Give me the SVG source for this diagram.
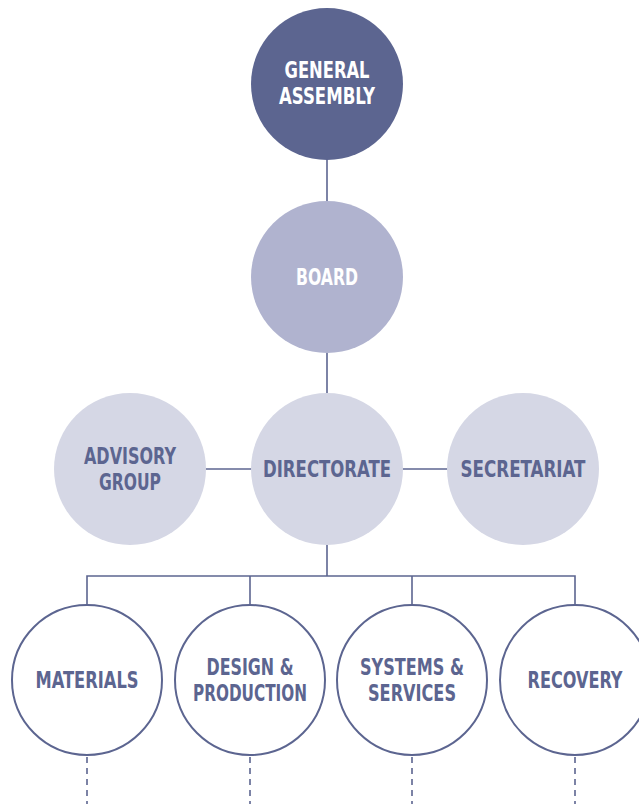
<svg xmlns="http://www.w3.org/2000/svg" width="639" height="804" viewBox="0 0 639 804">
<style>
.t{font-family:"DejaVu Sans Condensed","DejaVu Sans",sans-serif;font-weight:bold;font-size:23px;text-anchor:middle}
.w{fill:#ffffff}
.d{fill:#5c6590}
.ln{stroke:#5c6590;stroke-width:1.6;fill:none}
.dash{stroke:#5c6590;stroke-width:1.6;fill:none;stroke-dasharray:6 5}
.unit{fill:#ffffff;stroke:#5c6590;stroke-width:2}
</style>
<rect width="639" height="804" fill="#ffffff"/>
<g id="connectors">
<line class="ln" x1="327" y1="158" x2="327" y2="203"/>
<line class="ln" x1="327" y1="351" x2="327" y2="395"/>
<line class="ln" x1="205" y1="469" x2="253" y2="469"/>
<line class="ln" x1="401" y1="469" x2="449" y2="469"/>
<line class="ln" x1="327" y1="543" x2="327" y2="576"/>
<polyline class="ln" points="87,605 87,576 575,576 575,605"/>
<line class="ln" x1="250" y1="576" x2="250" y2="605"/>
<line class="ln" x1="412" y1="576" x2="412" y2="605"/>
<line class="dash" x1="87" y1="757" x2="87" y2="804"/>
<line class="dash" x1="250" y1="757" x2="250" y2="804"/>
<line class="dash" x1="412" y1="757" x2="412" y2="804"/>
<line class="dash" x1="575" y1="757" x2="575" y2="804"/>
</g>
<g id="general-assembly">
<circle cx="327" cy="84" r="76" fill="#5c6590"/>
<text class="t w" x="327" y="78" textLength="85" lengthAdjust="spacingAndGlyphs">GENERAL</text>
<text class="t w" x="327" y="104" textLength="96" lengthAdjust="spacingAndGlyphs">ASSEMBLY</text>
</g>
<g id="board">
<circle cx="327" cy="277" r="76" fill="#b0b3cf"/>
<text class="t w" x="327" y="285" textLength="62" lengthAdjust="spacingAndGlyphs">BOARD</text>
</g>
<g id="advisory-group">
<circle cx="130" cy="469" r="76" fill="#d5d7e5"/>
<text class="t d" x="130" y="464" textLength="92" lengthAdjust="spacingAndGlyphs">ADVISORY</text>
<text class="t d" x="130" y="490" textLength="62" lengthAdjust="spacingAndGlyphs">GROUP</text>
</g>
<g id="directorate">
<circle cx="327" cy="469" r="76" fill="#d5d7e5"/>
<text class="t d" x="327" y="477" textLength="128" lengthAdjust="spacingAndGlyphs">DIRECTORATE</text>
</g>
<g id="secretariat">
<circle cx="523" cy="469" r="76" fill="#d5d7e5"/>
<text class="t d" x="523" y="477" textLength="125" lengthAdjust="spacingAndGlyphs">SECRETARIAT</text>
</g>
<g id="materials">
<circle class="unit" cx="87" cy="680" r="75"/>
<text class="t d" x="87" y="688" textLength="103" lengthAdjust="spacingAndGlyphs">MATERIALS</text>
</g>
<g id="design-production">
<circle class="unit" cx="250" cy="680" r="75"/>
<text class="t d" x="250" y="675" textLength="87" lengthAdjust="spacingAndGlyphs">DESIGN &amp;</text>
<text class="t d" x="250" y="701" textLength="114" lengthAdjust="spacingAndGlyphs">PRODUCTION</text>
</g>
<g id="systems-services">
<circle class="unit" cx="412" cy="680" r="75"/>
<text class="t d" x="412" y="675" textLength="104" lengthAdjust="spacingAndGlyphs">SYSTEMS &amp;</text>
<text class="t d" x="412" y="701" textLength="88" lengthAdjust="spacingAndGlyphs">SERVICES</text>
</g>
<g id="recovery">
<circle class="unit" cx="575" cy="680" r="75"/>
<text class="t d" x="575" y="688" textLength="95" lengthAdjust="spacingAndGlyphs">RECOVERY</text>
</g>
</svg>
